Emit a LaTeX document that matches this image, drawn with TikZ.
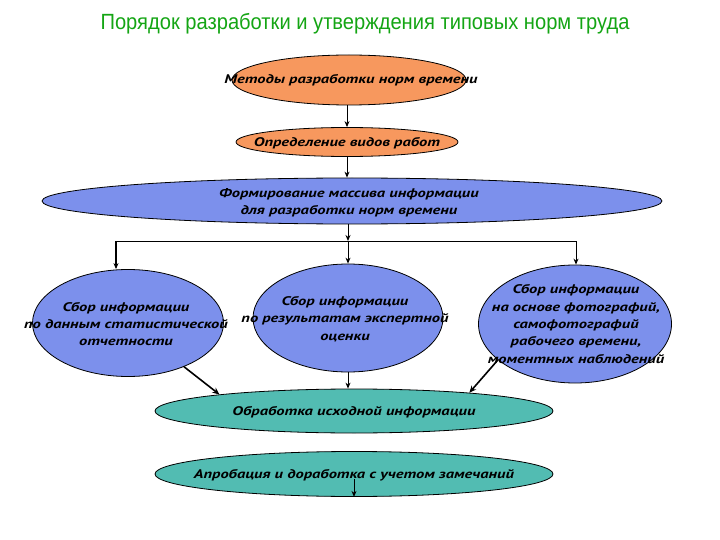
\documentclass[tikz,border=0pt]{standalone}
\usepackage{fontspec}
\setmainfont{Liberation Sans}
\newfontfamily\titlefont{Liberation Sans}[FakeStretch=0.915]
\newfontfamily\boxfont{PT Sans}[FakeStretch=1.32]
\usetikzlibrary{shapes.geometric,arrows.meta}
\definecolor{orangeF}{RGB}{247,152,94}
\definecolor{blueF}{RGB}{124,144,236}
\definecolor{tealF}{RGB}{82,188,178}
\definecolor{titleG}{RGB}{20,165,20}
\tikzset{
 ell/.style={ellipse, draw=black, line width=0.8pt, inner sep=0pt},
 lbl/.style={font=\boxfont\bfseries\itshape\fontsize{12.5}{17.3}\selectfont, align=center, text=black, inner sep=0pt},
 arr/.style={-{Stealth[length=6pt,width=5pt]}, line width=1pt},
 darr/.style={-{Stealth[length=7pt,width=6pt]}, line width=1.6pt},
 hline/.style={line width=0.9pt},
}
\begin{document}
\begin{tikzpicture}[x=1pt,y=-1pt]
\useasboundingbox (0,0) rectangle (720,540);
\node[font=\titlefont\fontsize{22}{26}\selectfont, text=titleG, anchor=base, inner sep=0pt] (title) at (365,30) {Порядок разработки и утверждения типовых норм труда};
% ellipses
\node[ell, fill=orangeF, minimum width=234, minimum height=50] (o1) at (349,80) {};
\node[ell, fill=orangeF, minimum width=222, minimum height=29] (o2) at (347,142) {};
\node[ell, fill=blueF, minimum width=620, minimum height=46] (big) at (352,201) {};
\node[ell, fill=blueF, minimum width=191, minimum height=107] (left) at (128,323) {};
\node[ell, fill=blueF, minimum width=190, minimum height=108] (mid) at (348,318) {};
\node[ell, fill=blueF, minimum width=193, minimum height=118] (right) at (575,324) {};
\node[ell, fill=tealF, minimum width=398, minimum height=44] (teal1) at (354,411) {};
\node[ell, fill=tealF, minimum width=398, minimum height=45] (teal2) at (354,474) {};
% texts
\node[lbl] (o1t) at (351,80) {Методы разработки норм времени};
\node[lbl] (o2t) at (347,143) {Определение видов работ};
\node[lbl] (bigt) at (349,203) {Формирование массива информации\\для разработки норм времени};
\node[lbl] (leftt) at (126,324) {Сбор информации\\по данным статистической\\отчетности};
\node[lbl] (midt) at (345,319) {Сбор информации\\по результатам экспертной\\оценки};
\node[lbl] (rightt) at (576,324) {Сбор информации\\на основе фотографий,\\самофотографий\\рабочего времени,\\моментных наблюдений};
\node[lbl] (teal1t) at (354,412) {Обработка исходной информации};
\node[lbl] (teal2t) at (354,475) {Апробация и доработка с учетом замечаний};
% connectors
\coordinate (j) at (348,241);
\coordinate (jl) at (116,241);
\coordinate (jr) at (576,241);
\coordinate (k) at (354,479);
\draw[arr] (o1.south -| o2.south) -- (o2.north);
\draw[arr] (o2.south) -- (o2.south |- big.north);
\draw[arr] (j |- big.south) -- (j);
\draw[hline] (jl) -- (jr);
\draw[arr] (j) -- (mid.north);
\draw[arr, line width=1.4pt] (jl) -- (jl |- left.north);
\draw[arr] (jr) -- (jr |- right.north);
\draw[arr] (mid.south) -- (mid.south |- teal1.north);
\draw[darr] (left.-38) -- (teal1.173.6);
\draw[darr] (right.205) -- (teal1.9);
\draw[arr] (k) -- (teal2.south);
\end{tikzpicture}
\end{document}
